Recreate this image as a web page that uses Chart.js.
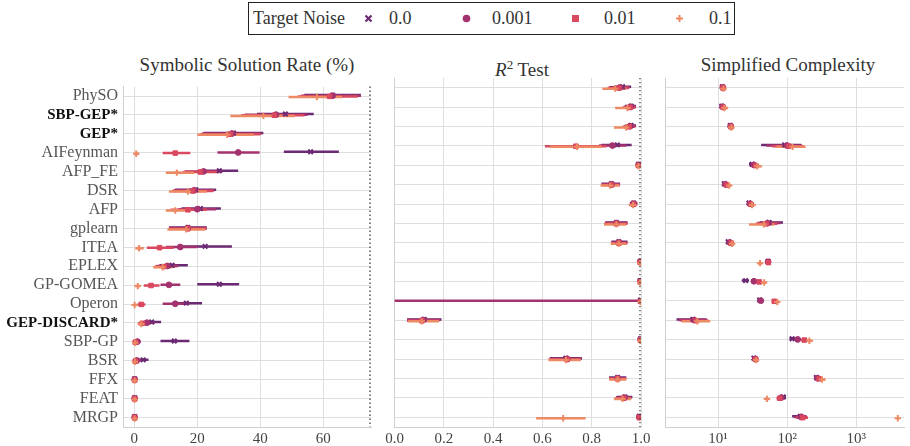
<!DOCTYPE html>
<html>
<head>
<meta charset="utf-8">
<script src="https://cdn.jsdelivr.net/npm/chart.js@4.4.1/dist/chart.umd.min.js"></script>
<style>
  body { margin: 0; background: #fff; width: 910px; height: 446px; position: relative; overflow: hidden; font-family: "Liberation Serif", serif; }
  .panel { position: absolute; top: 72px; height: 374px; }
  .title { position: absolute; top: 54px; font-size: 19px; color: #333; white-space: nowrap; transform: translateX(-50%); line-height: 22px; }
  #legend { position: absolute; left: 248px; top: 2px; width: 487px; height: 33px; border: 1.4px solid #222; box-sizing: border-box; font-size: 18px; color: #333; }
  #legend span, #legend svg { position: absolute; }
  #legend span { top: 5px; }
  #legend svg { top: 11px; }
</style>
</head>
<body>
<div id="legend">
  <span style="left:4px">Target Noise</span>
  <svg style="left:115px" width="9" height="9"><path d="M1.5 1.5 L7.5 7.5 M7.5 1.5 L1.5 7.5" stroke="#6b2a73" stroke-width="2.2"/></svg>
  <span style="left:140px">0.0</span>
  <svg style="left:213px" width="9" height="9"><circle cx="4.5" cy="4.5" r="3.8" fill="#a3326e"/></svg>
  <span style="left:243px">0.001</span>
  <svg style="left:322px" width="9" height="9"><rect x="1" y="1" width="7" height="7" fill="#d9485f"/></svg>
  <span style="left:355px">0.01</span>
  <svg style="left:426px" width="9" height="9"><path d="M4.5 1 L4.5 8 M1 4.5 L8 4.5" stroke="#ee8a63" stroke-width="2"/></svg>
  <span style="left:460px">0.1</span>
</div>
<div class="title" style="left:247px">Symbolic Solution Rate (%)</div>
<div class="title" style="left:522px"><i>R</i><sup style="font-size:13px">2</sup> Test</div>
<div class="title" style="left:788px">Simplified Complexity</div>
<div class="panel" style="left:0;width:380px"><canvas id="solChart"></canvas></div>
<div class="panel" style="left:380px;width:290px"><canvas id="r2Chart"></canvas></div>
<div class="panel" style="left:650px;width:260px"><canvas id="cxChart"></canvas></div>
<script>
const methods = ["PhySO", "SBP-GEP*", "GEP*", "AIFeynman", "AFP_FE", "DSR", "AFP", "gplearn", "ITEA",
  "EPLEX", "GP-GOMEA", "Operon", "GEP-DISCARD*", "SBP-GP", "BSR", "FFX", "FEAT", "MRGP"];
const boldMethods = ["SBP-GEP*", "GEP*", "GEP-DISCARD*"];
const noiseLevels = ["0.0", "0.001", "0.01", "0.1"];
const noiseColors = ["#6b2a73", "#a3326e", "#d9485f", "#ee8a63"];
const noiseMarkers = ["crossRot", "circle", "rect", "cross"];

// [mean, ci low, ci high] per method
const sol_00 = [[63,54,72],[48,39,57],[31.5,22,41],[56,47.5,65],[27,21,33],[19.5,13,26],[21,15,27.5],[17,11,23],[22.5,14.5,31],
  [12,8,17],[27,20,33.3],[16.5,12,21.5],[5.5,3,8.5],[12.7,8.3,17.5],[2.8,1,4.5],[0.1,0,0.3],[0.1,0,0.3],[0.1,0,0.3]];
const sol_0001 = [[63,53,72],[45,35,55],[31,21.5,40.5],[33,26.4,39.8],[22,16,28],[19,12.5,25.5],[20,14,26],[17,11,23],[14.6,10,20],
  [10.5,7,14],[11,8.3,14.6],[13,9,17.5],[4,2,6.5],[1,0.3,2],[0.8,0,2],[0.1,0,0.3],[0.1,0,0.3],[0.1,0,0.3]];
const sol_001 = [[62,52,71],[44.5,34,54],[30.5,21,40],[13,9,17.8],[21,15.5,27],[18.5,12,25],[17,11.5,23],[17,11,23],[8,4,12.5],
  [9.5,6.5,13],[5.3,3,8],[2.2,1,3.5],[2.5,1.2,4],[0.3,0,0.8],[0.3,0,0.8],[0.1,0,0.3],[0.1,0,0.3],[0.1,0,0.3]];
const sol_01 = [[58,49,66],[41,30.5,51],[29.5,20,38],[0.6,0,1.5],[13.5,10,19],[17,11,23],[13,10,18],[16.5,10.5,22.5],[1.5,0.3,3],
  [9,6,12],[1.1,0.2,2],[0.1,0,1],[2.2,1,3.8],[0.3,0,0.8],[0.2,0,0.6],[0.1,0,0.3],[0.1,0,0.3],[0.1,0,0.3]];

const r2_00 = [[0.925,0.89,0.96],[0.96,0.935,0.98],[0.96,0.935,0.98],[0.904,0.84,0.962],[0.99,0.98,1],[0.88,0.84,0.915],[0.97,0.955,0.985],
  [0.9,0.855,0.945],[0.91,0.88,0.945],[0.997,0.99,1],[0.997,0.99,1],[0.998,0.995,1],[0.12,0.05,0.19],[0.998,0.99,1],[0.695,0.63,0.76],
  [0.905,0.87,0.94],[0.935,0.9,0.965],[0.993,0.985,1]];
const r2_0001 = [[0.915,0.87,0.955],[0.958,0.93,0.98],[0.955,0.93,0.978],[0.884,0.83,0.94],[0.99,0.98,1],[0.88,0.84,0.915],[0.97,0.955,0.985],
  [0.9,0.855,0.945],[0.91,0.88,0.945],[0.997,0.99,1],[0.997,0.99,1],[-5,-20,1],[0.115,0.05,0.185],[0.998,0.99,1],[0.7,0.63,0.76],
  [0.905,0.87,0.94],[0.932,0.9,0.962],[0.993,0.985,1]];
const r2_001 = [[0.91,0.865,0.95],[0.955,0.925,0.978],[0.952,0.925,0.975],[0.736,0.61,0.86],[0.99,0.98,1],[0.88,0.84,0.915],[0.97,0.955,0.985],
  [0.9,0.85,0.945],[0.91,0.88,0.945],[0.997,0.99,1],[0.997,0.99,1],[0.998,0.995,1],[0.11,0.05,0.18],[0.998,0.99,1],[0.7,0.625,0.755],
  [0.905,0.87,0.94],[0.93,0.895,0.96],[0.993,0.985,1]];
const r2_01 = [[0.895,0.843,0.94],[0.945,0.895,0.97],[0.94,0.89,0.965],[0.74,0.63,0.84],[0.99,0.98,1],[0.875,0.836,0.912],[0.968,0.95,0.982],
  [0.9,0.85,0.94],[0.91,0.877,0.94],[0.997,0.99,1],[0.997,0.99,1],[0.998,0.995,1],[0.11,0.055,0.18],[0.998,0.99,1],[0.695,0.625,0.755],
  [0.905,0.87,0.94],[0.925,0.89,0.96],[0.684,0.574,0.775]];

const cx_00 = [[11.5,11,12.2],[11.3,10.6,12.2],[15,14,16],[92,42,160],[31,28,35],[12.3,11.5,13.2],[28,26,30.5],[55,40,87],[14,13,15.2],
  [53,50,56],[25,22,28],[40,37,43],[4.3,2.5,6.8],[118,108,130],[33,31.5,35],[265,245,290],[88,80,96],[155,118,190]];
const cx_0001 = [[11.7,11.1,12.4],[11.6,10.9,12.6],[15.2,14.2,16.3],[100,50,165],[33,29.5,37],[12.8,12,13.7],[29,27,31],[52,37,80],[14.8,13.8,15.8],
  [53,50,56.5],[33,30,36],[41.5,38.5,44.5],[4.5,2.7,7],[142,128,158],[34.5,32.5,36.5],[275,255,300],[82,74,90],[160,125,195]];
const cx_001 = [[11.8,11.2,12.6],[11.9,11,13],[15.4,14.3,16.5],[105,60,175],[35,31,39],[13.3,12.4,14.2],[30,28,32.5],[50,35,72],[15.5,14.5,16.5],
  [53.5,50,57],[39.5,36,43],[65,61,69],[4.8,2.9,7.3],[177,160,196],[35,33,37],[290,265,315],[78,70,86],[168,135,200]];
const cx_01 = [[12,11.2,12.8],[12.3,11.2,14],[15.6,14.5,16.7],[120,70,185],[37,33,43],[14.5,13.5,15.5],[31,29,35],[46,28,65],[16,15,17],
  [40.5,37.5,44],[46.5,43,50],[72,68,77],[5,3,7.7],[210,190,235],[35.5,33.5,37.5],[320,290,360],[51,47,55],[4000,3900,4100]];

const solTicks = [0, 20, 40, 60];
const r2Ticks = [0, 0.2, 0.4, 0.6, 0.8, 1.0];
const cxTicks = [10, 100, 1000];

const dodge = [-0.05, -0.017, 0.017, 0.05];
const fontFamily = "'Liberation Serif', serif";
const gridColor = "#dedede";

function buildDatasets(series) {
  const sets = [];
  series.forEach((rows, k) => {
    const bars = [];
    rows.forEach((r, i) => {
      const y = i + dodge[k];
      bars.push({ x: r[1], y: y }, { x: r[2], y: y }, { x: r[2], y: null });
    });
    sets.push({
      data: bars, showLine: true, spanGaps: false, borderColor: noiseColors[k],
      borderWidth: 2.5, pointRadius: 0, order: 20 - k
    });
    sets.push({
      data: rows.map((r, i) => ({ x: r[0], y: i + dodge[k] })),
      showLine: false, pointStyle: noiseMarkers[k], pointRadius: k === 1 ? 2.9 : 3.2,
      backgroundColor: noiseColors[k], borderColor: noiseColors[k], borderWidth: k === 0 || k === 3 ? 2 : 1,
      order: 10 - k
    });
  });
  return sets;
}

const dottedRight = {
  id: "dottedRight",
  afterDatasetsDraw(chart, args, opts) {
    if (!opts.show) return;
    const { ctx, chartArea } = chart;
    ctx.save();
    ctx.strokeStyle = "#333";
    ctx.lineWidth = 1.2;
    ctx.setLineDash([1.3, 2.7]);
    ctx.beginPath();
    ctx.moveTo(chartArea.right - 1, chartArea.top);
    ctx.lineTo(chartArea.right - 1, chartArea.bottom);
    ctx.stroke();
    ctx.restore();
  }
};

function makeChart(id, series, xScale, yWidth, padRight, showLabels, dotted) {
  const yAxis = {
    type: "linear", reverse: true, min: -0.5, max: 17.5,
    afterBuildTicks: (s) => { s.ticks = methods.map((m, i) => ({ value: i })); },
    afterFit: (s) => { s.width = yWidth; },
    grid: { color: gridColor, drawTicks: false },
    border: { color: "#cfcfcf" },
    ticks: {
      display: showLabels, padding: 5, autoSkip: false,
      callback: (v) => methods[v],
      color: (c) => boldMethods.includes(methods[c.index]) ? "#111" : "#555",
      font: (c) => boldMethods.includes(methods[c.index])
        ? { family: fontFamily, size: 15, weight: "bold" }
        : { family: fontFamily, size: 16 }
    }
  };
  return new Chart(document.getElementById(id), {
    type: "scatter",
    data: { datasets: buildDatasets(series) },
    options: {
      responsive: true, maintainAspectRatio: false, animation: false,
      layout: { padding: { top: 5, right: padRight, left: 0, bottom: 0 } },
      plugins: { legend: { display: false }, tooltip: { enabled: false }, dottedRight: { show: dotted } },
      scales: { x: xScale, y: yAxis }
    },
    plugins: [dottedRight]
  });
}

function xAxis(extra, tickValues, fmt) {
  return Object.assign({
    afterBuildTicks: (s) => { s.ticks = tickValues.map((v) => ({ value: v })); },
    afterFit: (s) => { s.height = 19; },
    grid: { color: gridColor, drawTicks: false },
    border: { color: "#cfcfcf" },
    ticks: { padding: 3, color: "#444", maxRotation: 0, autoSkip: false, font: { family: fontFamily, size: 15 }, callback: fmt }
  }, extra);
}

const sup = { 10: "10\u00b9", 100: "10\u00b2", 1000: "10\u00b3" };

makeChart("solChart", [sol_00, sol_0001, sol_001, sol_01],
  xAxis({ type: "linear", min: -3.6, max: 75.2 }, solTicks, (v) => v),
  123, 9, true, true);
makeChart("r2Chart", [r2_00, r2_0001, r2_001, r2_01],
  xAxis({ type: "linear", min: 0, max: 1 }, r2Ticks, (v) => v.toFixed(1)),
  14.7, 29, false, true);
makeChart("cxChart", [cx_00, cx_0001, cx_001, cx_01],
  xAxis({ type: "logarithmic", min: 1.72, max: 4920 }, cxTicks, (v) => sup[v]),
  15.3, 2, false, false);
</script>
</body>
</html>
